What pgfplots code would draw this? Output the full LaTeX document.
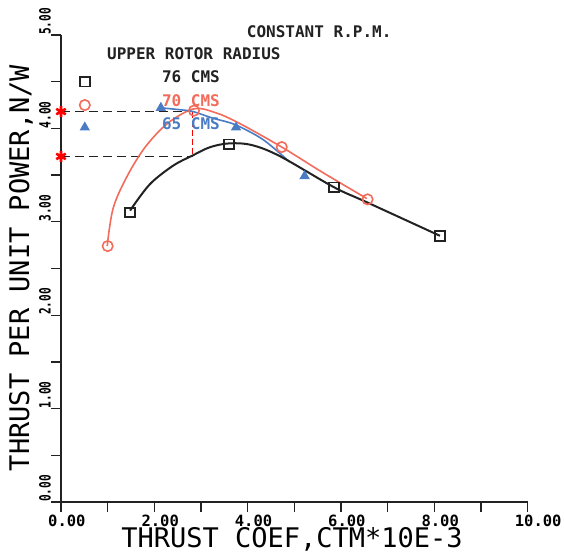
\documentclass[border=0pt]{standalone}
\usepackage{pgfplots}
\pgfplotsset{compat=1.18}
\usepackage{fontspec}
\setmainfont{DejaVu Sans Mono}
\definecolor{cblack}{HTML}{222222}
\definecolor{cred}{HTML}{F26B5B}
\definecolor{cblue}{HTML}{4A7CC4}
\begin{document}
\begin{tikzpicture}
\begin{axis}[
  at={(0,0)}, anchor=south west,
  scale only axis, width=466.7pt, height=467pt,
  xmin=0, xmax=10, ymin=0, ymax=5,
  axis x line=bottom, axis y line=left,
  axis line style={-, line width=1.3pt, cblack},
  tick align=outside,
  major tick length=10pt, minor tick length=10pt,
  tick style={line width=1.3pt, cblack},
  minor tick style={line width=1.3pt, cblack},
  xtick={0,2,...,10}, minor xtick={1,3,...,9},
  ytick={0,1,...,5}, minor ytick={0.5,1.5,...,4.5},
  /pgf/number format/assume math mode=true,
  xticklabel={\pgfmathprintnumber[fixed,fixed zerofill,precision=2]{\tick}},
  yticklabel={\scalebox{0.72}[1]{\pgfmathprintnumber[fixed,fixed zerofill,precision=2]{\tick}}},
  xticklabel style={font=\fontsize{15.5}{16}\selectfont\bfseries, anchor=north west, xshift=-13pt, yshift=-3pt, inner sep=0pt},
  yticklabel style={font=\fontsize{15.5}{16}\selectfont\bfseries, rotate=90, anchor=south west, inner sep=0pt},
  xlabel={THRUST COEF,CTM*10E-3},
  ylabel={THRUST PER UNIT POWER,N/W},
  xlabel style={font=\fontsize{27}{30}\selectfont, at={(axis description cs:0.495,-0.0800)}, anchor=center},
  ylabel style={font=\fontsize{27}{30}\selectfont, at={(axis description cs:-0.0857,0.501)}, anchor=center},
  clip=false,
]
% dashed guide lines
\addplot[cblack, line width=1.4pt, dash pattern=on 9pt off 5pt] coordinates {(0,4.18) (2.82,4.18)};
\addplot[cblack, line width=1.4pt, dash pattern=on 9pt off 5pt] coordinates {(0,3.70) (2.82,3.70)};
\addplot[red, line width=1.2pt, dash pattern=on 6pt off 3pt] coordinates {(2.82,4.18) (2.82,3.70)};
% curves
\addplot[cred, line width=1.6pt, smooth, tension=0.55] coordinates {
 (0.99,2.74) (1.12,3.15) (1.43,3.50) (1.82,3.81) (2.30,4.06) (2.85,4.21)
 (3.30,4.17) (3.80,4.06) (4.73,3.80) (5.60,3.53) (6.55,3.25)};
\addplot[cblue, line width=1.6pt, smooth, tension=0.5] coordinates {
 (2.14,4.22) (2.55,4.20) (2.83,4.18) (3.25,4.11) (3.73,4.04) (4.33,3.88) (4.90,3.64)};
\addplot[cblack, line width=2pt, smooth, tension=0.55] coordinates {
 (1.48,3.12) (1.90,3.40) (2.40,3.60) (2.82,3.71) (3.20,3.80) (3.62,3.84) (4.10,3.82)
 (4.70,3.70) (5.85,3.37) (6.55,3.21) (8.12,2.85)};
% markers
\addplot[only marks, mark=square, mark size=4.8pt, mark options={line width=1.8pt, cblack}] coordinates {
 (1.48,3.10) (3.60,3.83) (5.85,3.37) (8.12,2.85) (0.51,4.50)};
\addplot[only marks, mark=o, mark size=5.2pt, mark options={line width=1.6pt, cred}] coordinates {
 (1.00,2.74) (2.85,4.19) (4.73,3.80) (6.57,3.24) (0.51,4.25)};
\addplot[only marks, mark=triangle*, mark size=5pt, mark options={line width=1pt, draw=cblue, fill=cblue}] coordinates {
 (2.14,4.22) (3.75,4.01) (5.22,3.49) (0.51,4.01)};
\addplot[only marks, mark=asterisk, mark size=5.5pt, mark options={line width=2.6pt, red}] coordinates {
 (0,4.18) (0,3.70)};
% annotations
\node[anchor=west, inner sep=0pt, font=\fontsize{16}{17}\selectfont\bfseries, cblack] at (axis cs:3.98,5.04) {CONSTANT R.P.M.};
\node[anchor=west, inner sep=0pt, font=\fontsize{16}{17}\selectfont\bfseries, cblack] at (axis cs:0.985,4.80) {UPPER ROTOR RADIUS};
\node[anchor=west, inner sep=0pt, font=\fontsize{16}{17}\selectfont\bfseries, cblack] at (axis cs:2.16,4.55) {76 CMS};
\node[anchor=west, inner sep=0pt, font=\fontsize{16}{17}\selectfont\bfseries, cred] at (axis cs:2.16,4.30) {70 CMS};
\node[anchor=west, inner sep=0pt, font=\fontsize{16}{17}\selectfont\bfseries, cblue] at (axis cs:2.16,4.05) {65 CMS};
\end{axis}
\pgfresetboundingbox
\path[use as bounding box] (-61pt,-51pt) rectangle (503pt,502pt);
\end{tikzpicture}
\end{document}
